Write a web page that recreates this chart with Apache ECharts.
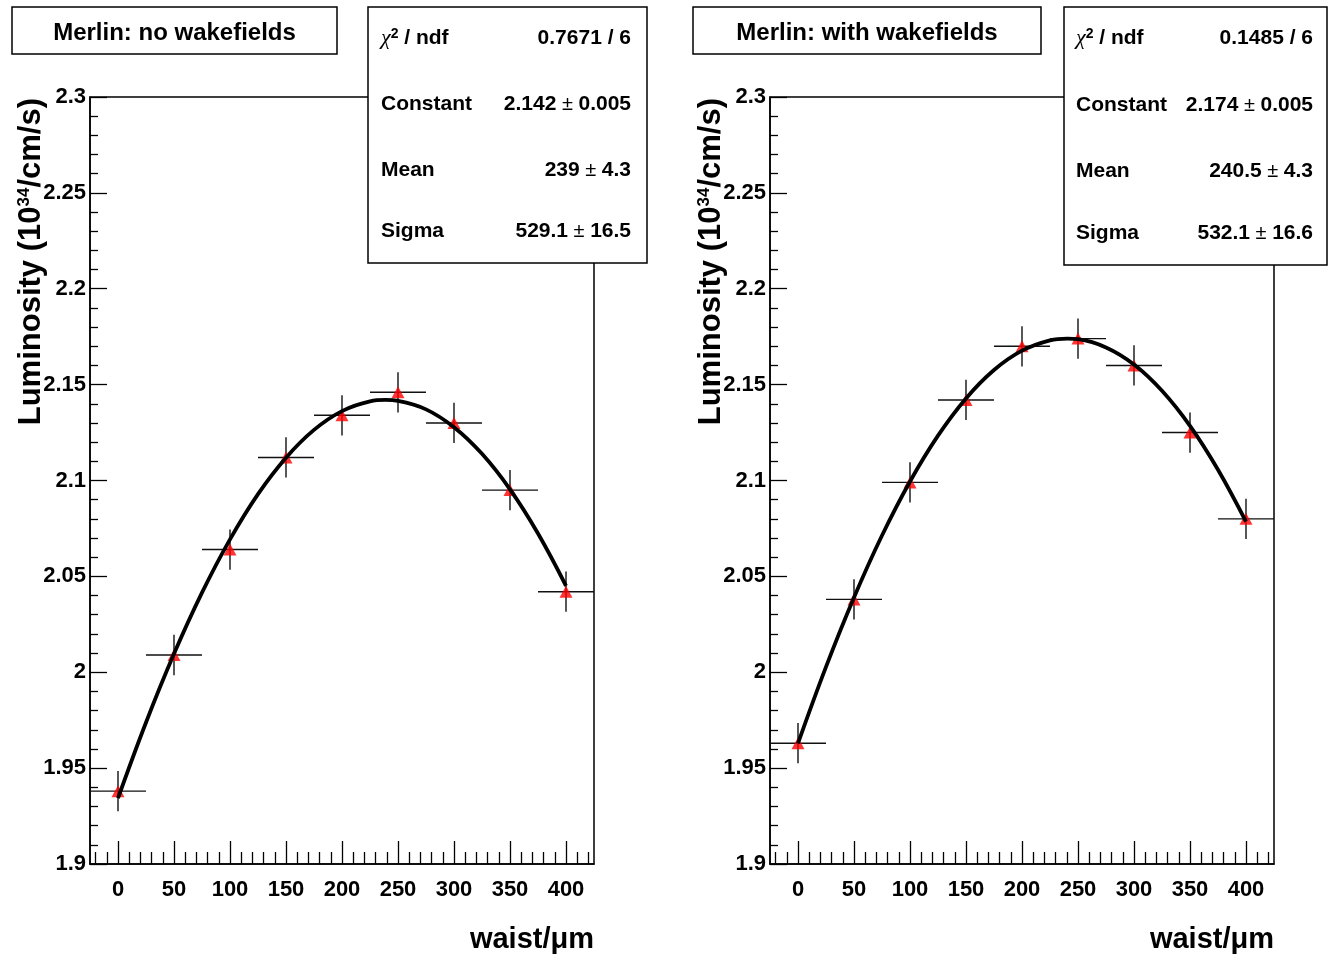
<!DOCTYPE html>
<html>
<head>
<meta charset="utf-8">
<script src="https://cdn.jsdelivr.net/npm/echarts@6/dist/echarts.min.js"></script>
<style>
html,body{margin:0;padding:0;background:#fff;}
#chart{width:1330px;height:959px;}
</style>
</head>
<body>
<div id="chart"></div>
<script>
// ---------------- data ----------------
const waist = [0, 50, 100, 150, 200, 250, 300, 350, 400];
const lumiNoWake = [1.938, 2.009, 2.064, 2.112, 2.134, 2.146, 2.130, 2.095, 2.042];
const lumiWake = [1.963, 2.038, 2.099, 2.142, 2.170, 2.174, 2.160, 2.125, 2.080];
const lumiErrNoWake = [0.0105, 0.0105, 0.0105, 0.0105, 0.0105, 0.0105, 0.0105, 0.0105, 0.0105];
const lumiErrWake = [0.0105, 0.0105, 0.0105, 0.0105, 0.0105, 0.0105, 0.0105, 0.0105, 0.0105];
const waistHalfBin = 25;

// Gaussian fit curves (peak at the fitted mean)
const fitWaistNoWake = [0, 25, 50, 75, 100, 125, 150, 175, 200, 225, 239, 250, 275, 300, 325, 350, 375, 400];
const fitNoWake = [1.9343, 1.9738, 2.0096, 2.0415, 2.0693, 2.0929, 2.1119, 2.1264, 2.1362, 2.1413, 2.1420, 2.1415, 2.1371, 2.1278, 2.1139, 2.0954, 2.0724, 2.0451];
const fitWaistWake = [0, 25, 50, 75, 100, 125, 150, 175, 200, 225, 240.5, 250, 275, 300, 325, 350, 375, 400];
const fitWake = [1.9629, 2.0028, 2.0390, 2.0713, 2.0995, 2.1234, 2.1428, 2.1576, 2.1677, 2.1731, 2.1740, 2.1737, 2.1694, 2.1605, 2.1468, 2.1285, 2.1056, 2.0785];

const xMajorTicks = [0, 50, 100, 150, 200, 250, 300, 350, 400];
const xMinorTicks = [-20, -10, 10, 20, 30, 40, 60, 70, 80, 90, 110, 120, 130, 140, 160, 170, 180, 190,
  210, 220, 230, 240, 260, 270, 280, 290, 310, 320, 330, 340, 360, 370, 380, 390, 410, 420];

const titles = ['Merlin: no wakefields', 'Merlin: with wakefields'];
const statLabels = ['χ2 / ndf', 'Constant', 'Mean', 'Sigma'];
const statsNoWake = ['0.7671 / 6', '2.142 ± 0.005', '239 ± 4.3', '529.1 ± 16.5'];
const statsWake = ['0.1485 / 6', '2.174 ± 0.005', '240.5 ± 4.3', '532.1 ± 16.6'];
const xTitle = 'waist/μm';

// ---------------- layout ----------------
const FONT = '"Liberation Sans", Arial, Helvetica, sans-serif';
const panels = [
  { left: 90, lumi: lumiNoWake, err: lumiErrNoWake, fitX: fitWaistNoWake, fit: fitNoWake, stats: statsNoWake, title: titles[0],
    titleBox: [12, 7, 325, 47], statBox: [368, 7, 279, 256], statLx: 381, statRx: 631, rows: [38, 104, 170, 231], yTitleX: 31 },
  { left: 770, lumi: lumiWake, err: lumiErrWake, fitX: fitWaistWake, fit: fitWake, stats: statsWake, title: titles[1],
    titleBox: [693, 7, 348, 47], statBox: [1064, 7, 263, 258], statLx: 1076, statRx: 1313, rows: [38, 105, 171, 233], yTitleX: 711 }
];
const GRID_TOP = 97, GRID_W = 504, GRID_H = 767;

const chart = echarts.init(document.getElementById('chart'), null, { renderer: 'canvas' });

const grids = [], xAxes = [], yAxes = [], series = [], graphics = [];
const tickStyle = { color: '#000', width: 1.3 };

function richLabel(s) {
  if (s.indexOf('χ2') === 0) return '{chi|χ}{sup|2}{b|' + s.slice(2) + '}';
  return '{b|' + s + '}';
}
function richValue(s) {
  const parts = s.split('±');
  if (parts.length === 2) return '{b|' + parts[0].trim() + '}{pm| ± }{b|' + parts[1].trim() + '}';
  return '{b|' + s + '}';
}
const statRich = {
  b: { fontFamily: FONT, fontWeight: 'bold', fontSize: 21, fill: '#000' },
  pm: { fontFamily: FONT, fontWeight: 'normal', fontSize: 20, fill: '#000' },
  chi: { fontFamily: '"Liberation Serif", serif', fontStyle: 'italic', fontSize: 22, fill: '#000' },
  sup: { fontFamily: FONT, fontWeight: 'bold', fontSize: 14, fill: '#000', verticalAlign: 'top' }
};

panels.forEach((p, gi) => {
  grids.push({ left: p.left, top: GRID_TOP, width: GRID_W, height: GRID_H, show: true,
    borderColor: '#000', borderWidth: 1.5, backgroundColor: 'transparent', containLabel: false });

  xAxes.push({
    type: 'value', gridIndex: gi, min: -25, max: 425, position: 'bottom',
    axisLine: { show: true, onZero: false, lineStyle: { color: '#000', width: 1.5 } },
    axisTick: { show: true, inside: true, length: 23, customValues: xMajorTicks, lineStyle: tickStyle },
    axisLabel: { show: true, customValues: xMajorTicks, margin: 15, color: '#000', fontSize: 22,
      fontWeight: 'bold', fontFamily: FONT },
    splitLine: { show: false }
  });
  xAxes.push({
    type: 'value', gridIndex: gi, min: -25, max: 425, position: 'bottom',
    axisLine: { show: false },
    axisTick: { show: true, inside: true, length: 12, customValues: xMinorTicks, lineStyle: tickStyle },
    axisLabel: { show: false },
    splitLine: { show: false }
  });
  yAxes.push({
    type: 'value', gridIndex: gi, min: 1.9, max: 2.3, interval: 0.05,
    axisLine: { show: true, onZero: false, lineStyle: { color: '#000', width: 1.5 } },
    axisTick: { show: true, inside: true, length: 17, lineStyle: tickStyle },
    minorTick: { show: true, splitNumber: 5, length: 8, lineStyle: tickStyle },
    axisLabel: { margin: 4, color: '#000', fontSize: 22, fontWeight: 'bold', fontFamily: FONT, padding: [10, 0, 0, 0] },
    splitLine: { show: false }
  });

  const pts = waist.map((w, i) => [w, p.lumi[i], p.err[i]]);
  series.push({
    type: 'custom', xAxisIndex: gi * 2, yAxisIndex: gi, z: 2, silent: true,
    data: pts,
    renderItem: function (params, api) {
      const x = api.value(0), y = api.value(1), e = api.value(2);
      const l = api.coord([x - waistHalfBin, y]);
      const r = api.coord([x + waistHalfBin, y]);
      const t = api.coord([x, y + e]);
      const b = api.coord([x, y - e]);
      return { type: 'group', children: [
        { type: 'line', shape: { x1: l[0], y1: l[1], x2: r[0], y2: r[1] }, style: { stroke: '#111', lineWidth: 1.4 } },
        { type: 'line', shape: { x1: t[0], y1: t[1], x2: b[0], y2: b[1] }, style: { stroke: '#111', lineWidth: 1.4 } }
      ] };
    }
  });
  series.push({
    type: 'scatter', xAxisIndex: gi * 2, yAxisIndex: gi, z: 3, silent: true,
    symbol: 'triangle', symbolSize: [13, 12],
    itemStyle: { color: '#ff0000' },
    data: waist.map((w, i) => [w, p.lumi[i]])
  });
  series.push({
    type: 'line', xAxisIndex: gi * 2, yAxisIndex: gi, z: 4, silent: true,
    smooth: 0.4, showSymbol: false, symbol: 'none',
    lineStyle: { color: '#000', width: 3.8 },
    data: p.fitX.map((w, i) => [w, p.fit[i]])
  });

  // title box
  const tb = p.titleBox;
  graphics.push({ type: 'rect', z: 100, shape: { x: tb[0], y: tb[1], width: tb[2], height: tb[3] },
    style: { fill: '#fff', stroke: '#000', lineWidth: 1.5 } });
  graphics.push({ type: 'text', z: 101, x: tb[0] + tb[2] / 2, y: tb[1] + tb[3] / 2 + 3,
    style: { text: p.title, fill: '#000', font: 'bold 24px ' + FONT, align: 'center', verticalAlign: 'middle' } });

  // stats box
  const sb = p.statBox;
  graphics.push({ type: 'rect', z: 100, shape: { x: sb[0], y: sb[1], width: sb[2], height: sb[3] },
    style: { fill: '#fff', stroke: '#000', lineWidth: 1.5 } });
  statLabels.forEach((lab, i) => {
    graphics.push({ type: 'text', z: 101, x: p.statLx, y: p.rows[i],
      style: { text: richLabel(lab), rich: statRich, align: 'left', verticalAlign: 'middle' } });
    graphics.push({ type: 'text', z: 101, x: p.statRx, y: p.rows[i],
      style: { text: richValue(p.stats[i]), rich: statRich, align: 'right', verticalAlign: 'middle' } });
  });

  // x title
  graphics.push({ type: 'text', z: 101, x: p.left + GRID_W, y: 940,
    style: { text: xTitle, fill: '#000', font: 'bold 29px ' + FONT, align: 'right', verticalAlign: 'middle' } });
  // y title (rotated)
  graphics.push({ type: 'text', z: 101, x: p.yTitleX, y: GRID_TOP + 1, rotation: Math.PI / 2,
    style: { text: '{a|Luminosity (10}{s|34}{a|/cm/s)}', align: 'right', verticalAlign: 'middle',
      rich: {
        a: { fontFamily: FONT, fontWeight: 'bold', fontSize: 31, fill: '#000' },
        s: { fontFamily: FONT, fontWeight: 'bold', fontSize: 17, fill: '#000', verticalAlign: 'top' }
      } } });
});

chart.setOption({
  animation: false,
  backgroundColor: '#fff',
  grid: grids,
  xAxis: xAxes,
  yAxis: yAxes,
  series: series,
  graphic: { elements: graphics }
});
</script>
</body>
</html>
